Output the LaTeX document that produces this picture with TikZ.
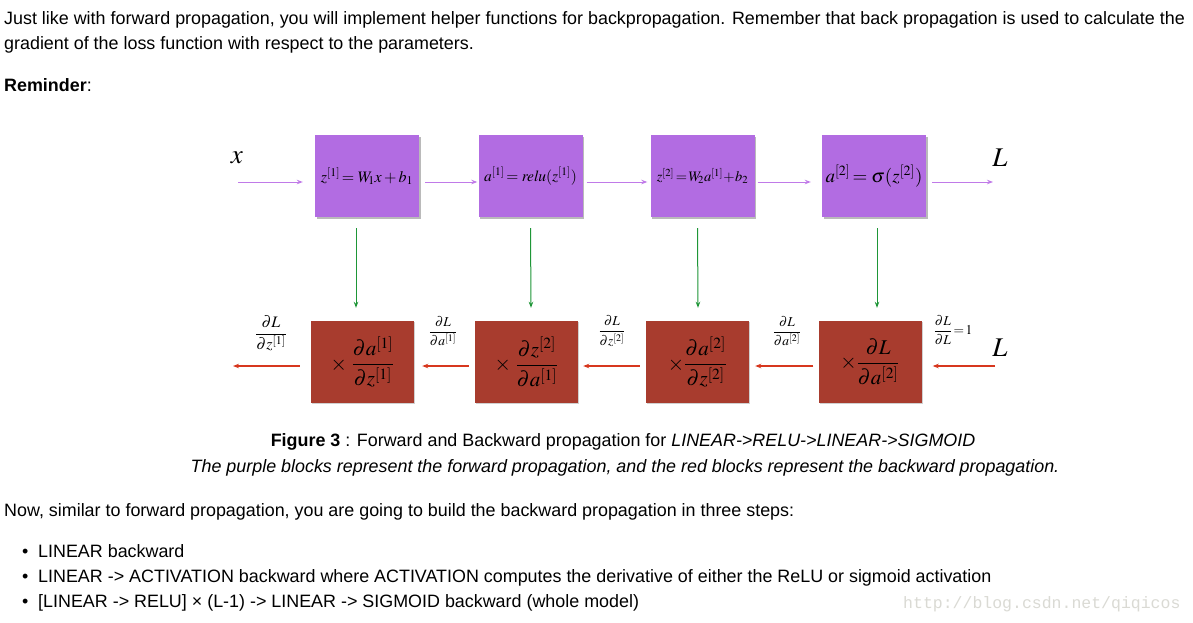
\documentclass[tikz,border=0pt]{standalone}
\usepackage{amsmath}
\usepackage{mathptmx}
\usepackage{fontspec}
\setmainfont{Liberation Sans}
\newfontfamily\wmfont{Liberation Mono}
\usetikzlibrary{shadows,arrows.meta}
\definecolor{pfill}{RGB}{178,108,226}
\definecolor{rfill}{RGB}{168,60,46}
\definecolor{parrow}{RGB}{192,122,232}
\definecolor{garrow}{RGB}{30,150,55}
\definecolor{rarrow}{RGB}{215,55,30}
\definecolor{wmgray}{RGB}{218,218,212}
\tikzset{
  bodytext/.style={anchor=base west, inner sep=0pt, font=\fontsize{17.9}{21}\selectfont},
  pbox/.style={draw=none, fill=pfill, minimum width=104pt, minimum height=82pt, inner sep=0pt,
    drop shadow={shadow xshift=1.5pt, shadow yshift=-1.5pt, opacity=0.45, fill=black!60},
    font=\fontsize{15.5}{18}\selectfont},
  rbox/.style={draw=none, fill=rfill, minimum width=103pt, minimum height=82pt, inner sep=0pt,
    drop shadow={shadow xshift=1pt, shadow yshift=-1pt, opacity=0.3, fill=black!60},
    font=\fontsize{21}{24}\selectfont},
  parr/.style={draw=parrow, line width=1pt, -{Stealth[length=6pt,width=4.5pt]}},
  garr/.style={draw=garrow, line width=1pt, -{Stealth[length=6pt,width=4.5pt]}},
  rarr/.style={draw=rarrow, line width=1.2pt, -{Stealth[length=6pt,width=4.5pt]}},
  dlab/.style={inner sep=0pt, font=\fontsize{13.5}{15}\selectfont},
  biglab/.style={inner sep=0pt, font=\fontsize{27}{30}\selectfont},
}
\begin{document}
\begin{tikzpicture}[x=1pt,y=-1pt]
\useasboundingbox[fill=white] (0,0) rectangle (1193,622);
% text
\node[bodytext] (t1) at (4,24) {Just like with forward propagation, you will implement helper functions for backpropagation. Remember that back propagation is used to calculate the};
\node[bodytext] (t2) at (4,49) {gradient of the loss function with respect to the parameters.};
\node[bodytext] (t3) at (4,91) {\textbf{Reminder}:};
% forward boxes
\node[pbox, font=\fontsize{16}{18}\selectfont] (p1) at (367,176) {$z^{[1]}\!=W_{\!1}x+b_{1}$};
\node[pbox] (p2) at (530.5,176) {$a^{[1]}\!=\mathit{relu}(z^{[1]})$};
\node[pbox, font=\fontsize{14.5}{17}\selectfont] (p3) at (702.5,176) {$z^{[2]}\!=\!W_{\!2}a^{[1]}\!+\!b_{2}$};
\node[pbox, font=\fontsize{19}{21}\selectfont] (p4) at (874,176) {$a^{[2]}\!=\sigma(z^{[2]})$};
\node[biglab] (xl) at (237,158) {$x$};
\node[biglab] (Lf) at (1000,158) {$L$};
\coordinate (xin) at (238,182);
\coordinate (Lout) at (993,182);
\draw[parr] (xin) -- ([xshift=-12pt,yshift=-6pt]p1.west);
\draw[parr] ([xshift=6pt,yshift=-6pt]p1.east) -- ([xshift=-1pt,yshift=-6pt]p2.west);
\draw[parr] ([xshift=4pt,yshift=-6pt]p2.east) -- ([xshift=-3pt,yshift=-6pt]p3.west);
\draw[parr] ([xshift=3pt,yshift=-6pt]p3.east) -- ([xshift=-11pt,yshift=-6pt]p4.west);
\draw[parr] ([xshift=6pt,yshift=-6pt]p4.east) -- (Lout);
% backward boxes
\node[rbox] (r1) at (362.5,362) {$\times\;\dfrac{\partial a^{[1]}}{\partial z^{[1]}}$};
\node[rbox] (r2) at (526.5,362) {$\times\;\dfrac{\partial z^{[2]}}{\partial a^{[1]}}$};
\node[rbox] (r3) at (697.5,362) {$\times\dfrac{\partial a^{[2]}}{\partial z^{[2]}}$};
\node[rbox] (r4) at (870,362) {$\times\dfrac{\partial L}{\partial a^{[2]}}$};
% green arrows
\draw[garr] ([xshift=-11pt,yshift=-11pt]p1.south) -- ([xshift=-6.5pt,yshift=13pt]r1.north);
\draw[garr] ([xshift=0pt,yshift=-11pt]p2.south) -- ([xshift=4.5pt,yshift=13pt]r2.north);
\draw[garr] ([xshift=-5pt,yshift=-11pt]p3.south) -- ([xshift=0.5pt,yshift=13pt]r3.north);
\draw[garr] ([xshift=3pt,yshift=-11pt]p4.south) -- ([xshift=7pt,yshift=13pt]r4.north);
% red arrows
\coordinate (bout) at (233,366);
\coordinate (Lin) at (995,366);
\draw[rarr] ([xshift=-11pt,yshift=-4pt]r1.west) -- (bout);
\draw[rarr] ([xshift=-6pt,yshift=-4pt]r2.west) -- ([xshift=8pt,yshift=-4pt]r1.east);
\draw[rarr] ([xshift=-6pt,yshift=-4pt]r3.west) -- ([xshift=5pt,yshift=-4pt]r2.east);
\draw[rarr] ([xshift=-5pt,yshift=-4pt]r4.west) -- ([xshift=6pt,yshift=-4pt]r3.east);
\draw[rarr] (Lin) -- ([xshift=11pt,yshift=-4pt]r4.east);
% labels
\node[dlab, font=\fontsize{16}{18}\selectfont] (d1) at (271,333) {$\dfrac{\partial L}{\partial z^{[1]}}$};
\node[dlab] (d2) at (443,331) {$\dfrac{\partial L}{\partial a^{[1]}}$};
\node[dlab] (d3) at (612,331) {$\dfrac{\partial L}{\partial z^{[2]}}$};
\node[dlab] (d4) at (787,331) {$\dfrac{\partial L}{\partial a^{[2]}}$};
\node[dlab] (d5) at (953,330) {$\dfrac{\partial L}{\partial L}\!=\!1$};
\node[biglab] (Lb) at (1000,348) {$L$};
% caption
\node[inner sep=0pt, anchor=base, font=\fontsize{17.9}{21}\selectfont] (c1) at (623,446) {\textbf{Figure 3} : Forward and Backward propagation for \textit{LINEAR->RELU->LINEAR->SIGMOID}};
\node[inner sep=0pt, anchor=base, font=\fontsize{17.9}{21}\selectfont\itshape] (c2) at (625,472) {The purple blocks represent the forward propagation, and the red blocks represent the backward propagation.};
\node[bodytext] (t4) at (4,516) {Now, similar to forward propagation, you are going to build the backward propagation in three steps:};
\node[bodytext] (b1) at (22,557) {•};
\node[bodytext] (b2) at (22,582) {•};
\node[bodytext] (b3) at (22,607) {•};
\node[bodytext] (l1) at (38,557) {LINEAR backward};
\node[bodytext] (l2) at (38,582) {LINEAR -> ACTIVATION backward where ACTIVATION computes the derivative of either the ReLU or sigmoid activation};
\node[bodytext] (l3) at (38,607) {[LINEAR -> RELU] × (L-1) -> LINEAR -> SIGMOID backward (whole model)};
\node[anchor=base west, inner sep=0pt, text=wmgray, font=\wmfont\fontsize{16.5}{18}\selectfont] (wm) at (903,608) {http://blog.csdn.net/qiqicos};
\end{tikzpicture}
\end{document}
